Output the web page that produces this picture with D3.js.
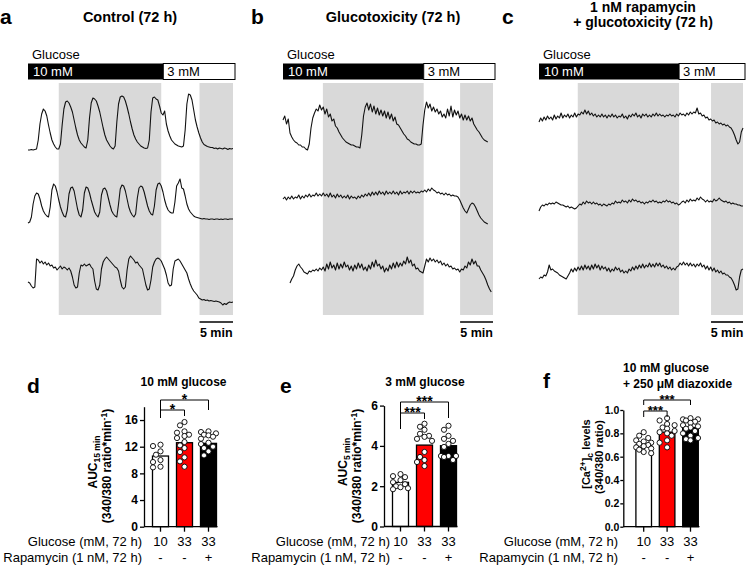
<!DOCTYPE html>
<html>
<head>
<meta charset="utf-8">
<script src="https://cdn.jsdelivr.net/npm/d3@7"></script>
<style>
body{margin:0;background:#fff;}
svg{display:block;font-family:"Liberation Sans",Arial,sans-serif;}
</style>
</head>
<body>
<script>
// Ca2+ traces, one sample every 0.25 min (fura-2 ratio, arbitrary offset units)
var step = 0.25;

var a1 = [0.0,0.0,0.05,0.0,0.05,0.1,1.0,2.6,3.6,4.1,3.9,3.4,2.5,1.7,1.0,0.6,0.3,0.1,0.1,0.6,
  2.5,4.1,4.8,4.9,4.7,4.3,3.8,3.0,2.2,1.5,1.0,0.7,0.5,0.3,0.2,1.0,3.2,4.7,5.2,5.1,
  4.9,4.4,3.8,3.0,2.2,1.5,1.0,0.7,0.4,0.2,0.1,0.4,2.8,4.6,5.3,5.4,5.3,4.9,4.3,3.6,
  2.8,2.1,1.5,1.1,0.8,0.6,0.4,0.3,0.2,0.15,0.2,1.0,3.8,5.2,5.3,5.1,5.0,4.4,3.7,3.5,
  3.9,2.6,1.9,1.4,1.0,0.8,0.6,0.5,0.4,0.35,0.3,0.4,2.0,4.6,5.6,5.5,5.0,4.0,3.0,2.3,
  1.7,1.2,0.8,0.55,0.45,0.35,0.3,0.25,0.25,0.15,0.2,0.1,0.2,0.15,0.1,0.2,0.15,0.05,0.15,0.1,
  0.15];
var a2 = [-0.1,0.0,0.5,1.8,2.6,2.9,2.8,2.3,1.6,1.1,0.8,0.6,0.5,1.5,3.2,3.8,3.6,3.0,2.2,1.5,
  1.0,0.6,0.5,1.2,2.8,3.4,3.5,3.1,2.2,1.3,0.7,0.5,1.2,2.9,3.5,3.4,2.9,2.2,1.6,1.0,
  0.7,0.5,1.0,2.7,3.3,3.4,3.1,2.4,1.7,1.1,0.8,0.6,0.5,1.8,3.3,3.7,3.6,3.1,2.3,1.5,
  1.0,0.7,0.5,0.8,2.4,3.4,3.6,3.5,3.0,2.3,1.6,1.1,0.8,0.7,1.6,3.2,3.8,3.9,3.6,3.0,
  2.2,1.6,1.2,1.0,0.9,0.9,2.0,3.6,3.9,4.3,3.4,3.3,2.6,1.8,1.3,1.0,0.8,0.6,0.5,0.45,
  0.4,0.35,0.3,0.35,0.3,0.3,0.25,0.3,0.3,0.25,0.3,0.3,0.25,0.3,0.25,0.3,0.3,0.25,0.3,0.3,
  0.3];
var a3 = [2.3,2.2,1.9,1.7,1.8,4.6,4.5,4.2,4.4,4.1,4.3,4.0,4.2,3.9,4.0,3.7,3.8,3.5,3.7,3.9,
  3.6,3.8,3.7,3.5,3.7,3.4,2.8,2.0,1.7,1.8,3.2,4.0,3.9,4.1,3.9,4.0,4.1,3.8,3.6,2.4,
  1.6,1.5,2.0,3.6,4.3,4.6,4.8,4.6,4.4,4.2,4.0,3.8,3.7,3.4,2.5,1.8,1.6,1.8,3.5,4.6,
  4.9,4.7,4.5,4.2,4.3,4.0,3.8,3.6,2.8,2.0,1.5,1.6,2.5,3.8,4.3,4.6,4.7,4.6,4.4,4.0,
  3.6,3.0,2.2,1.9,2.0,3.6,4.4,4.5,4.6,4.4,4.1,3.8,3.5,3.2,2.6,2.1,1.7,1.4,1.2,1.0,
  0.7,0.6,0.5,0.55,0.45,0.5,0.4,0.45,0.4,0.35,0.4,0.35,0.3,0.2,0.0,0.15,0.05,0.2,0.3,0.25,
  0.3];

var b1 = [3.0,3.4,2.6,3.1,1.7,1.3,1.0,0.8,0.7,0.5,0.5,0.3,0.3,0.1,0.0,0.6,2.2,3.2,3.7,4.1,
  3.9,4.5,4.0,4.3,3.6,4.1,3.3,3.6,2.9,3.1,2.4,2.2,1.8,1.5,1.2,1.0,0.8,0.7,0.6,0.5,
  0.5,0.4,0.3,0.3,0.2,1.5,3.4,4.3,4.7,4.0,4.6,3.8,4.4,3.6,4.2,3.5,4.0,3.4,3.9,3.2,
  3.8,3.1,3.6,2.9,3.3,2.6,2.5,2.2,1.9,1.6,1.4,1.1,1.0,0.8,0.7,0.6,0.6,0.5,0.5,0.6,
  2.5,4.0,4.8,4.2,4.6,3.9,4.3,3.8,4.1,3.6,3.9,3.3,3.6,3.2,4.1,3.4,4.4,3.3,4.0,3.5,
  3.9,3.2,3.6,3.0,3.5,3.0,3.4,2.9,3.2,2.6,2.3,2.0,1.8,1.5,1.2,1.0,0.9,0.8];
var b2 = [2.3,2.5,2.2,2.5,2.3,2.6,2.3,2.5,2.4,2.7,2.3,2.6,2.4,2.7,2.5,2.8,2.5,2.7,2.6,2.9,
  2.6,2.8,2.6,2.9,2.6,2.8,2.5,2.9,2.5,2.7,2.4,2.8,2.5,2.7,2.4,2.6,2.4,2.7,2.3,2.6,
  2.4,2.5,2.3,2.6,2.4,2.7,2.5,2.8,2.6,2.9,2.6,3.0,2.7,3.0,2.7,3.1,2.8,3.0,2.7,3.1,
  2.8,3.0,2.8,3.1,2.8,3.0,2.7,3.1,2.8,3.0,2.9,3.1,2.8,3.1,2.9,3.1,2.9,3.0,2.9,3.1,
  3.0,3.2,3.0,3.3,3.1,3.4,3.2,3.1,2.9,3.0,2.8,2.9,2.7,2.9,2.7,2.8,2.6,2.7,2.6,2.6,
  2.5,2.2,1.8,1.4,1.1,0.9,1.3,1.7,1.9,1.8,1.5,1.1,0.7,0.4,0.2,0.0,-0.1,-0.2];
var b3 = [null,null,null,null,2.2,2.6,2.9,3.5,3.9,4.1,3.8,3.6,3.3,3.2,3.1,3.4,3.3,3.5,3.4,3.6,
  3.4,3.7,3.5,3.8,3.4,4.1,3.6,4.3,3.7,4.0,3.5,4.2,3.6,4.1,3.7,4.3,3.8,4.0,3.5,3.9,
  3.4,4.0,3.6,4.2,3.7,4.1,3.5,3.8,3.4,4.0,3.6,4.3,3.8,4.5,3.9,4.1,3.6,3.9,3.3,3.7,
  3.4,4.0,3.6,4.2,3.7,4.3,3.8,4.2,3.9,4.4,4.1,4.8,4.2,4.5,3.9,4.1,3.6,3.7,3.4,3.3,
  3.2,3.9,4.6,4.3,4.7,4.4,4.6,4.3,4.5,4.2,4.4,4.0,4.2,3.9,4.1,3.8,3.9,3.6,3.7,3.5,
  3.6,3.3,3.6,3.5,3.9,3.7,4.3,4.0,4.6,4.1,4.4,3.9,3.9,3.5,3.2,2.9,2.5,2.0,1.6,1.3];

var c1 = [2.8,3.2,2.9,3.3,3.0,3.4,3.1,3.3,3.0,3.5,3.1,3.4,3.2,3.7,3.2,3.5,3.3,3.6,3.2,3.5,
  3.3,3.7,3.3,3.6,3.5,3.8,3.6,4.0,3.6,3.9,3.5,3.7,3.4,3.6,3.3,3.5,3.3,3.6,3.3,3.5,
  3.2,3.5,3.3,3.6,3.3,3.5,3.2,3.4,3.3,3.6,3.2,3.4,3.1,3.5,3.3,3.6,3.4,3.7,3.3,3.5,
  3.2,3.6,3.4,3.6,3.3,3.5,3.3,3.6,3.4,3.7,3.4,3.6,3.4,3.5,3.3,3.5,3.4,3.6,3.4,3.5,
  3.3,3.6,3.4,3.7,3.5,3.6,3.4,3.7,3.5,3.8,3.6,3.8,3.7,4.2,3.6,3.7,3.4,3.5,3.2,3.3,
  3.0,3.1,2.9,3.0,2.7,2.8,2.6,2.7,2.5,2.6,2.4,2.5,2.3,2.2,1.9,1.5,1.0,0.6,0.8,1.8,
  2.2];
var c2 = [1.1,1.5,1.7,1.6,1.8,1.7,1.9,1.8,1.9,1.8,2.0,1.9,1.8,1.7,1.7,1.6,1.5,1.6,1.4,1.5,
  1.4,1.3,1.4,1.6,1.8,1.7,2.0,1.8,2.1,1.9,2.0,1.8,2.0,1.8,1.9,1.7,1.8,1.6,1.8,1.7,
  1.6,1.8,1.7,1.9,1.8,2.1,1.9,2.0,1.9,2.2,2.0,2.1,1.9,2.2,2.0,2.3,2.1,2.2,2.0,2.1,
  1.9,2.0,1.8,2.0,1.9,2.1,2.0,2.2,2.0,2.1,1.9,2.0,1.9,2.1,2.0,2.2,2.0,2.1,1.9,2.0,
  1.8,1.9,1.7,1.8,2.0,2.1,1.9,2.2,2.0,2.3,2.1,2.2,2.1,2.4,2.2,2.5,2.3,2.2,2.0,2.2,
  2.0,2.1,2.0,2.3,2.1,2.2,2.4,2.2,2.1,2.0,2.1,1.9,2.0,1.8,1.9,1.8,1.8,1.7,1.7,1.6,
  1.6];
var c3 = [2.6,2.8,2.7,3.0,2.9,3.3,4.0,3.5,3.6,3.4,3.3,3.2,3.0,2.9,2.8,2.7,2.6,2.9,3.2,3.6,
  3.3,3.7,3.4,3.8,3.5,3.9,3.5,4.0,3.6,3.9,3.5,4.0,3.6,4.1,3.7,4.0,3.5,3.9,3.6,3.8,
  3.4,3.7,3.3,3.6,3.4,3.8,3.5,3.7,3.3,3.5,3.2,3.4,3.2,3.6,3.4,3.8,3.5,3.9,3.6,4.0,
  3.7,4.1,3.7,4.0,3.8,4.2,3.8,4.1,3.8,4.2,3.9,4.2,3.8,4.0,3.7,3.9,3.6,3.8,3.5,3.7,
  3.5,3.8,3.9,4.2,4.0,4.3,4.0,4.2,3.9,4.2,3.9,4.1,3.8,4.1,3.9,4.2,3.8,4.0,3.6,3.9,
  3.5,3.8,3.4,3.7,3.3,3.5,3.2,3.4,3.1,3.2,3.0,3.0,2.8,2.7,2.4,2.0,1.5,1.6,2.8,3.5,
  3.6];

// bar charts
var glucoseLabels = ["10", "33", "33"];
var rapaLabels = ["-", "-", "+"];
var barColors = ["#ffffff", "#ff0000", "#000000"];

var auc15Mean = [10.6, 12.6, 12.5];
var auc15Dots = [
  [12.1, 12.3, 11.3, 10.8, 10.0, 9.7, 9.0, 8.9],
  [15.7, 15.2, 14.3, 14.1, 13.8, 13.6, 13.3, 12.7, 12.2, 11.8, 11.2, 10.4, 9.8, 9.0],
  [14.3, 14.2, 14.0, 13.8, 13.7, 13.5, 13.2, 12.6, 12.4, 12.0, 11.8, 11.3, 10.7]
];
var auc5Mean = [2.19, 4.04, 4.01];
var auc5Dots = [
  [2.6, 2.5, 2.45, 2.3, 2.2, 2.1, 2.0, 1.95, 1.9, 1.85],
  [5.1, 4.95, 4.8, 4.6, 4.5, 4.45, 4.35, 4.25, 3.7, 3.45, 3.3, 3.2, 3.0],
  [5.0, 4.8, 4.5, 4.35, 4.25, 4.1, 3.95, 3.5, 3.5, 3.5, 3.45, 3.3]
];
var diazMean = [0.70, 0.81, 0.85];
var diazDots = [
  [0.81, 0.78, 0.76, 0.74, 0.73, 0.72, 0.71, 0.70, 0.69, 0.68, 0.67, 0.66, 0.64, 0.63],
  [0.93, 0.91, 0.88, 0.87, 0.85, 0.84, 0.82, 0.81, 0.80, 0.78, 0.74, 0.72, 0.68],
  [0.93, 0.92, 0.92, 0.91, 0.90, 0.89, 0.87, 0.86, 0.85, 0.84, 0.82, 0.80, 0.78, 0.76, 0.75, 0.74]
];

var svg = d3.select("body").append("svg").attr("width", 746).attr("height", 567);

var rowBase = [150, 222, 305];

function tracePanel(p){
  var x = d3.scaleLinear().domain([0, 30]).range(p.range);
  var g = svg.append("g");

  g.append("text").attr("x", p.letterX).attr("y", 24)
      .attr("font-size", "21px").attr("font-weight", "bold").text(p.letter);
  p.title.forEach(function(t, i){
    g.append("text").attr("x", p.titleX).attr("y", p.titleY[i])
        .attr("text-anchor", "middle").attr("font-size", p.titleFont)
        .attr("font-weight", "bold").text(t);
  });

  //grey windows used for the AUC
  g.selectAll("rect.shade").data(p.shade).enter().append("rect")
      .attr("class", "shade")
      .attr("x", d => x(d[0]))
      .attr("width", d => x(d[1]) - x(d[0]))
      .attr("y", 83).attr("height", 232)
      .attr("fill", "#d9d9d9");

  //glucose bar
  g.append("text").attr("x", x(0) + 4).attr("y", 59).attr("font-size", "13px").text("Glucose");
  g.append("rect").attr("x", x(0)).attr("y", 63.5)
      .attr("width", x(p.switchAt) - x(0)).attr("height", 16).attr("fill", "#000");
  g.append("rect").attr("x", x(p.switchAt)).attr("y", 63.5)
      .attr("width", x(30) + 2 - x(p.switchAt)).attr("height", 16)
      .attr("fill", "#fff").attr("stroke", "#000").attr("stroke-width", 1);
  g.append("text").attr("x", x(0) + 5).attr("y", 76).attr("font-size", "13px")
      .attr("fill", "#fff").text("10 mM");
  g.append("text").attr("x", x(p.switchAt) + 4).attr("y", 76).attr("font-size", "13px").text("3 mM");

  p.traces.forEach(function(tr, i){
    var y = d3.scaleLinear().domain([0, 6]).range([rowBase[i], rowBase[i] - 60]);
    var line = d3.line().defined(d => d != null)
        .x((d, j) => x(j * step)).y(d => y(d));
    g.append("path").datum(tr).attr("d", line)
        .attr("fill", "none").attr("stroke", "#111")
        .attr("stroke-width", 1.1).attr("stroke-linejoin", "round");
  });

  //5 min scale bar
  var s = p.shade[1];
  g.append("line").attr("x1", x(s[0])).attr("x2", x(s[1]))
      .attr("y1", 322).attr("y2", 322).attr("stroke", "#000").attr("stroke-width", 1.6);
  g.append("text").attr("x", (x(s[0]) + x(s[1])) / 2).attr("y", 337)
      .attr("text-anchor", "middle").attr("font-size", "12.5px")
      .attr("font-weight", "bold").text("5 min");
}

tracePanel({letter: "a", letterX: 0, title: ["Control (72 h)"], titleX: 130, titleY: [22], titleFont: "14.5px",
  range: [28, 233], shade: [[4.5, 19.5], [25.1, 30]], switchAt: 19.8, traces: [a1, a2, a3]});
tracePanel({letter: "b", letterX: 251, title: ["Glucotoxicity (72 h)"], titleX: 393, titleY: [22], titleFont: "14.5px",
  range: [283, 493], shade: [[5.7, 20.1], [25.3, 30]], switchAt: 20.1, traces: [b1, b2, b3]});
tracePanel({letter: "c", letterX: 502, title: ["1 nM rapamycin", "+ glucotoxicity (72 h)"], titleX: 643, titleY: [12, 26.5], titleFont: "14px",
  range: [539, 743], shade: [[5.7, 20.6], [25.3, 30]], switchAt: 20.6, traces: [c1, c2, c3]});

function swarm(vals, y, r){
  var placed = [];
  var offs = [0, -4.5, 4.5, -7.5, 7.5];
  var order = vals.map((v, i) => i).sort((i, j) => vals[j] - vals[i]);
  order.forEach(function(i){
    var py = y(vals[i]), best = 0, bestGap = -1;
    for (var k = 0; k < offs.length; k++){
      var gap = placed.length ? d3.min(placed, q => Math.hypot(q.dx - offs[k], q.y - py)) : 99;
      if (gap >= 2 * r){ best = offs[k]; break; }
      if (gap > bestGap){ bestGap = gap; best = offs[k]; }
    }
    placed.push({dx: best, y: py});
  });
  return placed;
}

function barPanel(p){
  var g = svg.append("g");
  var y = d3.scaleLinear().domain(p.domain).range([p.y0, p.yTop]);
  var x = d3.scaleBand().domain([0, 1, 2])
      .range([p.c0 - p.step / 2, p.c0 + 2.5 * p.step])
      .paddingInner(1 / 3).paddingOuter(1 / 6);
  var cx = i => x(i) + x.bandwidth() / 2;

  g.append("text").attr("x", p.letterX).attr("y", p.letterY)
      .attr("font-size", "21px").attr("font-weight", "bold").text(p.letter);
  p.title.forEach(function(t, i){
    g.append("text").attr("x", p.titleX).attr("y", p.titleY[i])
        .attr("text-anchor", p.titleAnchor).attr("font-size", "12px")
        .attr("font-weight", "bold").text(t);
  });

  //bars
  g.selectAll("rect.bar").data(p.mean).enter().append("rect")
      .attr("class", "bar")
      .attr("x", (d, i) => x(i)).attr("width", x.bandwidth())
      .attr("y", d => y(d)).attr("height", d => y(0) - y(d))
      .attr("fill", (d, i) => barColors[i]).attr("stroke", "#000").attr("stroke-width", 1.3);

  //individual islets
  p.dots.forEach(function(vals, i){
    g.selectAll("circle.g" + i).data(swarm(vals, y, 2.6)).enter().append("circle")
        .attr("class", "g" + i)
        .attr("cx", d => cx(i) + d.dx).attr("cy", d => d.y).attr("r", 2.6)
        .attr("fill", "#fff").attr("stroke", "#000").attr("stroke-width", 0.9);
  });

  //y axis
  var ya = g.append("g").attr("transform", "translate(" + p.axisX + ",0)")
      .call(d3.axisLeft(y).tickValues(p.ticks).tickSize(p.tickLen).tickSizeOuter(0)
      .tickPadding(p.tickPad).tickFormat(p.fmt));
  ya.selectAll("text").attr("font-size", p.tickFont).attr("font-weight", "bold")
      .attr("font-family", "Liberation Sans, Arial, sans-serif").attr("fill", "#000");
  ya.selectAll("path,line").attr("stroke", "#000").attr("stroke-width", 1.3);

  //x axis
  g.append("line").attr("x1", p.axisX).attr("x2", cx(2) + 9)
      .attr("y1", y(0)).attr("y2", y(0)).attr("stroke", "#000").attr("stroke-width", 1.3);
  [0, 1, 2].forEach(function(i){
    g.append("line").attr("x1", cx(i)).attr("x2", cx(i)).attr("y1", y(0)).attr("y2", y(0) + 5)
        .attr("stroke", "#000").attr("stroke-width", 1.3);
    g.append("text").attr("x", cx(i)).attr("y", 546).attr("text-anchor", "middle")
        .attr("font-size", "13px").text(glucoseLabels[i]);
    g.append("text").attr("x", cx(i)).attr("y", 562).attr("text-anchor", "middle")
        .attr("font-size", "13px").text(rapaLabels[i]);
  });
  g.append("text").attr("x", p.labelRight).attr("y", 546).attr("text-anchor", "end")
      .attr("font-size", "13px").text("Glucose (mM, 72 h)");
  g.append("text").attr("x", p.labelRight).attr("y", 562).attr("text-anchor", "end")
      .attr("font-size", "13px").text("Rapamycin (1 nM, 72 h)");

  //y label, two rotated lines
  p.ylab.forEach(function(parts, k){
    var t = g.append("text")
        .attr("transform", "translate(" + p.ylabX[k] + "," + p.ylabY[k] + ") rotate(-90)")
        .attr("text-anchor", "middle").attr("font-size", p.ylabFont).attr("font-weight", "bold");
    parts.forEach(function(s){
      var sp = t.append("tspan").text(s[0]);
      if (s[1] == "sub") sp.attr("font-size", "8.5px").attr("dy", 3);
      if (s[1] == "sup") sp.attr("font-size", "8.5px").attr("dy", -4.5);
      if (s[1] == "back") sp.attr("dy", s[2]);
    });
  });

  //significance brackets, stars sit just above the line
  p.sig.forEach(function(s){
    g.append("path")
        .attr("d", "M" + cx(s.a) + "," + (s.y + s.legs[0]) + "V" + s.y + "H" + cx(s.b) + "V" + (s.y + s.legs[1]))
        .attr("fill", "none").attr("stroke", "#000").attr("stroke-width", 1);
    g.append("text").attr("x", (cx(s.a) + cx(s.b)) / 2).attr("y", s.y + 3.5)
        .attr("text-anchor", "middle").attr("font-size", p.starFont).attr("font-weight", "bold")
        .text(s.label);
  });
}

barPanel({letter: "d", letterX: 27, letterY: 393, title: ["10 mM glucose"], titleX: 183.5, titleY: [385.5], titleAnchor: "middle",
  domain: [0, 18], y0: 526.7, yTop: 406.7, ticks: [0, 4, 8, 12, 16], fmt: d3.format("d"),
  tickFont: "12px", tickLen: 4, tickPad: 2, starFont: "14px",
  axisX: 144, c0: 160.5, step: 24, labelRight: 142, mean: auc15Mean, dots: auc15Dots,
  ylabX: [97, 111], ylabY: [462, 466], ylabFont: "12px",
  ylab: [[["AUC"], ["15 min", "sub"]], [["(340/380 ratio*min"], ["-1", "sup"], [")", "back", 4.5]]],
  sig: [{a: 0, b: 1, y: 410, legs: [8, 6], label: "*"}, {a: 0, b: 2, y: 400, legs: [10, 10], label: "*"}]});

barPanel({letter: "e", letterX: 280, letterY: 393, title: ["3 mM glucose"], titleX: 425, titleY: [385.5], titleAnchor: "middle",
  domain: [0, 6], y0: 526.5, yTop: 405.6, ticks: [0, 2, 4, 6], fmt: d3.format("d"),
  tickFont: "12px", tickLen: 4, tickPad: 2, starFont: "14px",
  axisX: 384, c0: 400.5, step: 24, labelRight: 390, mean: auc5Mean, dots: auc5Dots,
  ylabX: [347, 361], ylabY: [462, 466], ylabFont: "12px",
  ylab: [[["AUC"], ["5 min", "sub"]], [["(340/380 ratio*min"], ["-1", "sup"], [")", "back", 4.5]]],
  sig: [{a: 0, b: 1, y: 413, legs: [16, 6], label: "***"}, {a: 0, b: 2, y: 402, legs: [11, 16], label: "***"}]});

barPanel({letter: "f", letterX: 543, letterY: 388, title: ["10 mM glucose", "+ 250 \u03bcM diazoxide"], titleX: 623, titleY: [372, 388], titleAnchor: "start",
  domain: [0, 1], y0: 526.7, yTop: 410, ticks: [0, 0.2, 0.4, 0.6, 0.8, 1.0], fmt: d3.format(".1f"),
  tickFont: "10.5px", tickLen: 3, tickPad: 1, starFont: "13px",
  axisX: 623.3, c0: 643.7, step: 23.4, labelRight: 618, mean: diazMean, dots: diazDots,
  ylabX: [590, 603], ylabY: [454, 457], ylabFont: "11px",
  ylab: [[["[Ca"], ["2+", "sup"], ["]", "back", 4.5], ["c", "sub"], [" levels", "back", -3]], [["(340/380 ratio)"]]],
  sig: [{a: 0, b: 1, y: 411, legs: [6, 6], label: "***"}, {a: 0, b: 2, y: 400, legs: [5, 5], label: "***"}]});
</script>
</body>
</html>
